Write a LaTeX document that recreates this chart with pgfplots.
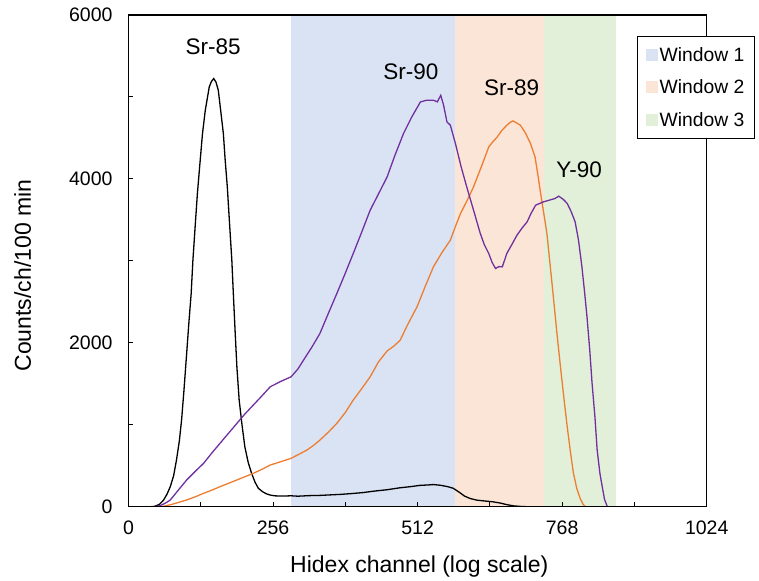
\documentclass[border=0pt]{standalone}
\usepackage{pgfplots}
\pgfplotsset{compat=1.18}
\usepackage{fontspec}
\setmainfont{Liberation Sans}
\definecolor{wone}{HTML}{DAE3F3}
\definecolor{wtwo}{HTML}{FBE5D6}
\definecolor{wthree}{HTML}{E2F0D9}
\definecolor{cpurple}{HTML}{7030A0}
\definecolor{corange}{HTML}{ED7D31}
\begin{document}
\begin{tikzpicture}
\begin{axis}[
  scale only axis, width=578.2pt, height=491.7pt,
  xmin=0, xmax=1024, ymin=0, ymax=6000,
  axis on top,
  axis line style={line width=1.2pt, black},
  tick style={line width=1pt, black},
  major tick length=5pt,
  tick align=inside,
  xtick pos=bottom, ytick pos=left,
  xtick={0,128,...,1024}, xticklabels={0,,256,,512,,768,,1024},
  ytick={0,1000,...,6000}, yticklabels={0,,2000,,4000,,6000},
  /pgf/number format/assume math mode=true,
  tick label style={font=\fontsize{19.5}{23}\selectfont},
  xticklabel style={yshift=-11pt},
  yticklabel style={xshift=-12.5pt},
  xlabel={Hidex channel (log scale)},
  ylabel={Counts/ch/100 min},
  every axis x label/.style={at={(axis description cs:0.503,-0.1342)}, anchor=base, font=\fontsize{23}{27}\selectfont},
  every axis y label/.style={at={(axis description cs:-0.183,0.47)}, rotate=90, anchor=center, font=\fontsize{23}{27}\selectfont},
  legend style={at={(0.8794,0.957)}, anchor=north west, draw=black, line width=1.2pt,
    font=\fontsize{19.3}{23}\selectfont, row sep=13pt, inner xsep=8pt, inner ysep=8.5pt,
    cells={anchor=west}},
  legend image code/.code={\fill[#1] (0pt,-6pt) rectangle (12pt,6pt);},
]
\addplot[fill=wone, draw=none] coordinates {(288,0)(578,0)(578,6000)(288,6000)} -- cycle;
\addlegendentry{Window 1}
\addplot[fill=wtwo, draw=none] coordinates {(578,0)(735,0)(735,6000)(578,6000)} -- cycle;
\addlegendentry{Window 2}
\addplot[fill=wthree, draw=none] coordinates {(735,0)(864,0)(864,6000)(735,6000)} -- cycle;
\addlegendentry{Window 3}

% Sr-85 (black)
\addplot[black, line width=1.3pt, forget plot] coordinates {
(0,0)(40,0)(47,5)(55,30)(62,80)(68,150)(74,244)(80,380)(85,570)(90,800)(94,1057)(98,1400)(103,1870)(107,2250)(111,2602)(114,3000)(118,3415)(122,3820)(127,4228)(131,4550)(136,4838)(140,5000)(143,5122)(147,5190)(151,5224)(155,5180)(159,5082)(163,4850)(168,4553)(171,4250)(175,3902)(179,3450)(183,3008)(186,2550)(189,2114)(192,1700)(196,1301)(201,1000)(206,732)(212,540)(218,407)(224,300)(230,224)(238,180)(245,155)(252,140)(260,132)(275,130)(288,133)(300,128)(320,135)(340,138)(360,145)(375,150)(395,160)(415,172)(435,190)(458,207)(480,230)(500,245)(516,260)(530,265)(540,270)(552,262)(565,245)(575,225)(585,180)(595,130)(605,100)(617,80)(630,70)(645,60)(658,45)(670,25)(682,10)(695,3)(705,0)(1024,0)};

% Sr-89 (orange)
\addplot[corange, line width=1.3pt, forget plot] coordinates {
(0,0)(55,0)(62,5)(75,25)(90,55)(103,82)(118,120)(133,163)(147,200)(162,244)(177,285)(192,326)(206,365)(221,407)(236,455)(251,508)(270,550)(288,590)(302,640)(316,691)(328,750)(339,813)(354,910)(369,1017)(384,1150)(398,1301)(413,1440)(428,1585)(443,1770)(458,1900)(470,1960)(481,2030)(495,2230)(511,2439)(525,2680)(540,2927)(555,3100)(570,3252)(579,3420)(588,3578)(600,3740)(611,3902)(625,4150)(638,4390)(645,4450)(653,4512)(661,4590)(670,4655)(676,4690)(681,4707)(688,4680)(694,4655)(703,4560)(712,4431)(720,4268)(725,4050)(729,3862)(735,3600)(741,3334)(747,2930)(753,2520)(759,2100)(765,1707)(771,1330)(777,975)(783,650)(788,407)(794,220)(800,100)(805,30)(809,0)(1024,0)};

% Sr-90 + Y-90 (purple)
\addplot[cpurple, line width=1.3pt, forget plot] coordinates {
(0,0)(45,0)(52,5)(60,25)(67,50)(74,82)(88,200)(103,326)(118,430)(133,529)(147,650)(162,773)(177,895)(192,1017)(206,1130)(221,1240)(236,1350)(251,1463)(270,1530)(288,1585)(300,1680)(310,1789)(325,1950)(339,2114)(354,2360)(369,2602)(384,2850)(398,3090)(413,3350)(428,3618)(443,3820)(458,4024)(472,4290)(487,4553)(502,4760)(517,4939)(528,4960)(540,4960)(547,4940)(553,5020)(558,4900)(564,4695)(570,4655)(579,4431)(589,4150)(599,3902)(611,3620)(623,3334)(630,3200)(638,3090)(644,2980)(650,2907)(656,2930)(662,2927)(670,3090)(679,3200)(688,3313)(697,3400)(706,3476)(713,3580)(721,3679)(728,3700)(735,3720)(745,3740)(755,3760)(762,3789)(770,3750)(777,3700)(784,3600)(791,3476)(797,3250)(803,2927)(808,2600)(812,2317)(817,1900)(821,1505)(826,1100)(830,691)(835,400)(839,244)(843,90)(848,0)(1024,0)};

\node[font=\fontsize{22.5}{26}\selectfont] at (axis cs:149.7,5610) {Sr-85};
\node[font=\fontsize{22.5}{26}\selectfont] at (axis cs:500,5308) {Sr-90};
\node[font=\fontsize{22.5}{26}\selectfont] at (axis cs:678.7,5106) {Sr-89};
\node[font=\fontsize{22.5}{26}\selectfont] at (axis cs:798,4109) {Y-90};
\end{axis}
\path ([shift={(-128.5pt,-71.3pt)}]current axis.south west) rectangle ([shift={(52.3pt,15pt)}]current axis.north east);
\end{tikzpicture}
\end{document}
